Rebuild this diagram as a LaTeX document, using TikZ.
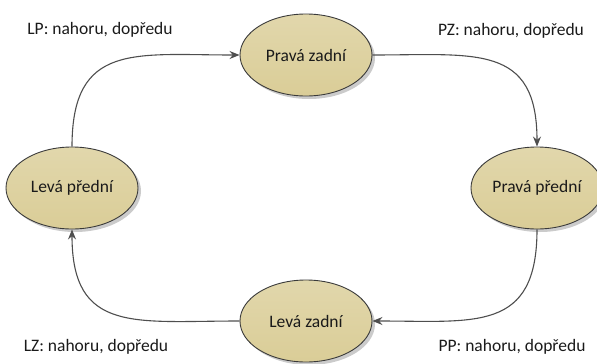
\documentclass[tikz,border=0pt]{standalone}
\usepackage{fontspec}
\setmainfont{Carlito}
\usetikzlibrary{shapes.geometric,shadows,arrows.meta}
\definecolor{legfill}{HTML}{DACD97}
\definecolor{legedge}{HTML}{3A3A3A}
\definecolor{conncol}{HTML}{4E4E4E}
\definecolor{textcol}{HTML}{1A1A1A}
\begin{document}
\begin{tikzpicture}[x=1pt,y=-1pt,
  leg/.style={ellipse, draw=legedge, line width=0.9pt,
    top color=legfill!80!white, bottom color=legfill,
    minimum width=132pt, minimum height=82pt, inner sep=0pt,
    font=\fontsize{17.5}{20}\selectfont, text=textcol,
    drop shadow={shadow xshift=3pt, shadow yshift=-3pt, fill=black!45, opacity=0.45}},
  conn/.style={draw=conncol, line width=1.1pt, -{Stealth[length=10pt,width=8pt]}},
  lbl/.style={font=\fontsize{17.5}{20}\selectfont, text=textcol, inner sep=0pt}]
  \useasboundingbox (0,0) rectangle (597,364);

  % the four legs of the gait cycle
  \node[leg] (pz) at (306,55)  {Pravá zadní};
  \node[leg] (pp) at (537,188) {Pravá přední};
  \node[leg] (lz) at (306,321) {Levá zadní};
  \node[leg] (lp) at (72,188)  {Levá přední};

  % cycle order
  \draw[conn] (lp.north) to[out=90,in=180,looseness=1.4] (pz.west);
  \draw[conn] (pz.east) to[out=0,in=90,looseness=1.4] (pp.north);
  \draw[conn] (pp.south) to[out=-90,in=0,looseness=1.4] (lz.east);
  \draw[conn] (lz.west) to[out=180,in=-90,looseness=1.4] (lp.south);

  % step notes in the corners
  \node[lbl] (nlp) at (100,30)  {LP: nahoru, dopředu};
  \node[lbl] (npz) at (511,31)  {PZ: nahoru, dopředu};
  \node[lbl] (npp) at (512,347) {PP: nahoru, dopředu};
  \node[lbl] (nlz) at (96,347)  {LZ: nahoru, dopředu};
\end{tikzpicture}
\end{document}
